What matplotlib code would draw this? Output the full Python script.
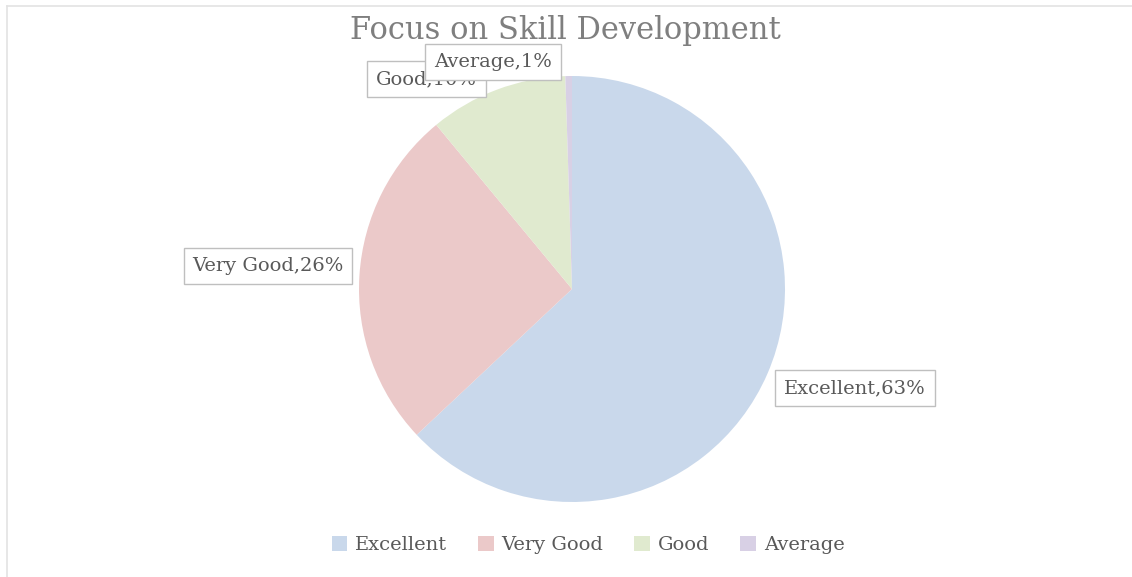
import matplotlib
matplotlib.use("Agg")
import matplotlib.pyplot as plt
from matplotlib.lines import Line2D
from matplotlib.patches import Patch

title = "Focus on Skill Development"
categories = ["Excellent", "Very Good", "Good", "Average"]
values = [63.0, 26.0, 10.5, 0.5]
label_pcts = ["63%", "26%", "10%", "1%"]
colors = ["#C9D8EB", "#EBC9C9", "#E0EACF", "#D8D0E5"]

plt.rcParams['font.family'] = ['DejaVu Serif']
text_color = "#595959"

fig = plt.figure(figsize=(11.32, 5.77), dpi=100)
fig.patch.set_facecolor("white")

ax = fig.add_axes([359/1132, 75/577, 426/1132, 426/577])
ax.pie(values, colors=colors, startangle=90, counterclock=False,
       wedgeprops=dict(linewidth=0))
ax.set_xlim(-1, 1)
ax.set_ylim(-1, 1)
ax.set_aspect('equal')
ax.axis('off')

# frame lines
fig.add_artist(Line2D([7/1132, 1.0], [1-6/577, 1-6/577], transform=fig.transFigure,
                      color="#E3E3E3", lw=1.2))
fig.add_artist(Line2D([7/1132, 7/1132], [0, 1-6/577], transform=fig.transFigure,
                      color="#E3E3E3", lw=1.2))

fig.text(565/1132, 1-31/577, title, ha='center', va='center', fontsize=22,
         color="#7F7F7F")

box = dict(boxstyle="square,pad=0.45", fc="white", ec="#BFBFBF", lw=1)
label_pos = {
    "Excellent": (855/1132, 1-388/577, 'center'),
    "Very Good": (268/1132, 1-266/577, 'center'),
    "Good": (376/1132, 1-79/577, 'left'),
    "Average": (493/1132, 1-62/577, 'center'),
}
for cat, pct in zip(categories, label_pcts):
    x, y, ha = label_pos[cat]
    fig.text(x, y, f"{cat},{pct}", ha=ha, va='center', fontsize=14,
             color=text_color, bbox=box)

handles = [Patch(facecolor=c, edgecolor='none') for c in colors]
fig.legend(handles, categories, loc='center', bbox_to_anchor=(588/1132, 1-545/577),
           ncol=4, frameon=False, fontsize=14, labelcolor=text_color,
           handlelength=0.8, handleheight=0.8, handletextpad=0.4, columnspacing=1.6)

fig.savefig("out.png", dpi=100, facecolor="white")
